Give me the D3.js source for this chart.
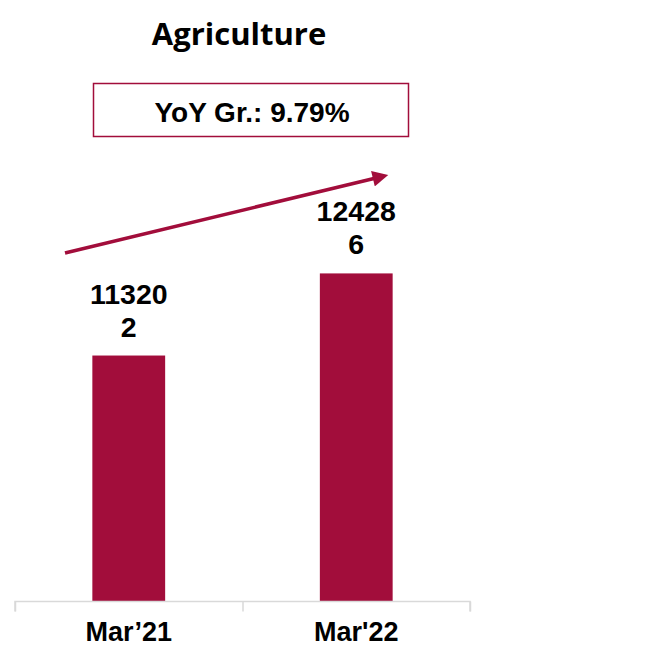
<!DOCTYPE html>
<html>
<head>
<meta charset="utf-8">
<script src="https://cdn.jsdelivr.net/npm/d3@7"></script>
<style>
  body { margin: 0; background: #fff; }
  svg { display: block; }
</style>
</head>
<body>
<div id="container"></div>
<script>
var categories = ["Mar\u201921", "Mar'22"];
var values = [113202, 124286];
var labelLines = [["11320", "2"], ["12428", "6"]];
var title = "Agriculture";
var growthText = "YoY Gr.: 9.79%";

var width = 656;
var height = 648;
var barColor = "#a20d3b";

var svg = d3.select("#container").append("svg")
            .attr("width", width)
            .attr("height", height);

var x = d3.scaleBand()
          .domain(categories)
          .range([15, 470])
          .paddingInner(0.68)
          .paddingOuter(0.34);

var y = d3.scaleLinear()
          .domain([80000, 140000])
          .range([601.5, 157]);

// title
svg.append("text")
   .attr("x", 239)
   .attr("y", 45)
   .attr("text-anchor", "middle")
   .style("font-family", "'Open Sans', sans-serif")
   .style("font-weight", "bold")
   .style("font-size", "31px")
   .attr("fill", "#000")
   .text(title);

// growth box
svg.append("rect")
   .attr("x", 93.5)
   .attr("y", 83.5)
   .attr("width", 315)
   .attr("height", 53)
   .attr("fill", "none")
   .attr("stroke", barColor)
   .attr("stroke-width", 1.5);

svg.append("text")
   .attr("x", 252)
   .attr("y", 121.5)
   .attr("text-anchor", "middle")
   .style("font-family", "'Liberation Sans', Arial, sans-serif")
   .style("font-weight", "bold")
   .style("font-size", "28px")
   .attr("fill", "#000")
   .text(growthText);

// trend arrow
svg.append("defs").append("marker")
   .attr("id", "head")
   .attr("viewBox", "0 0 10 10")
   .attr("refX", 2)
   .attr("refY", 5)
   .attr("markerWidth", 5)
   .attr("markerHeight", 4.5)
   .attr("markerUnits", "strokeWidth")
   .attr("orient", "auto")
   .append("path")
   .attr("d", "M0,0 L10,5 L0,10 Z")
   .attr("fill", barColor);

svg.append("line")
   .attr("x1", 65)
   .attr("y1", 253)
   .attr("x2", 376)
   .attr("y2", 178)
   .attr("stroke", barColor)
   .attr("stroke-width", 3.5)
   .attr("marker-end", "url(#head)");

// bars
svg.selectAll("rect.bar")
   .data(values)
   .enter()
   .append("rect")
   .attr("class", "bar")
   .attr("x", function(d, i) { return x(categories[i]); })
   .attr("y", function(d) { return y(d); })
   .attr("width", x.bandwidth())
   .attr("height", function(d) { return y.range()[0] - y(d); })
   .attr("fill", barColor);

// value labels
var lbl = svg.selectAll("text.val")
   .data(values)
   .enter()
   .append("text")
   .attr("class", "val")
   .attr("text-anchor", "middle")
   .style("font-family", "'Liberation Sans', Arial, sans-serif")
   .style("font-weight", "bold")
   .style("font-size", "28.5px")
   .attr("fill", "#000");

lbl.each(function(d, i) {
  var cx = x(categories[i]) + x.bandwidth() / 2;
  var top = y(d) - 52;
  d3.select(this).selectAll("tspan")
    .data(labelLines[i])
    .enter()
    .append("tspan")
    .attr("x", cx)
    .attr("y", function(t, j) { return top + j * 33; })
    .text(function(t) { return t; });
});

// axis
var xAxis = d3.axisBottom(d3.scaleLinear().domain([0, categories.length]).range([15, 470]))
              .ticks(categories.length)
              .tickSize(10)
              .tickFormat("");

var axisG = svg.append("g")
   .attr("transform", "translate(0,601.5)")
   .call(xAxis);
axisG.selectAll("path, line").attr("stroke", "#d9d9d9").attr("stroke-width", 1.5);
axisG.select(".domain").attr("d", "M15,10V0H470V10");

svg.selectAll("text.cat")
   .data(categories)
   .enter()
   .append("text")
   .attr("class", "cat")
   .attr("x", function(d) { return x(d) + x.bandwidth() / 2; })
   .attr("y", 641)
   .attr("text-anchor", "middle")
   .style("font-family", "'Liberation Sans', Arial, sans-serif")
   .style("font-weight", "bold")
   .style("font-size", "27px")
   .attr("fill", "#000")
   .text(function(d) { return d; });
</script>
</body>
</html>
